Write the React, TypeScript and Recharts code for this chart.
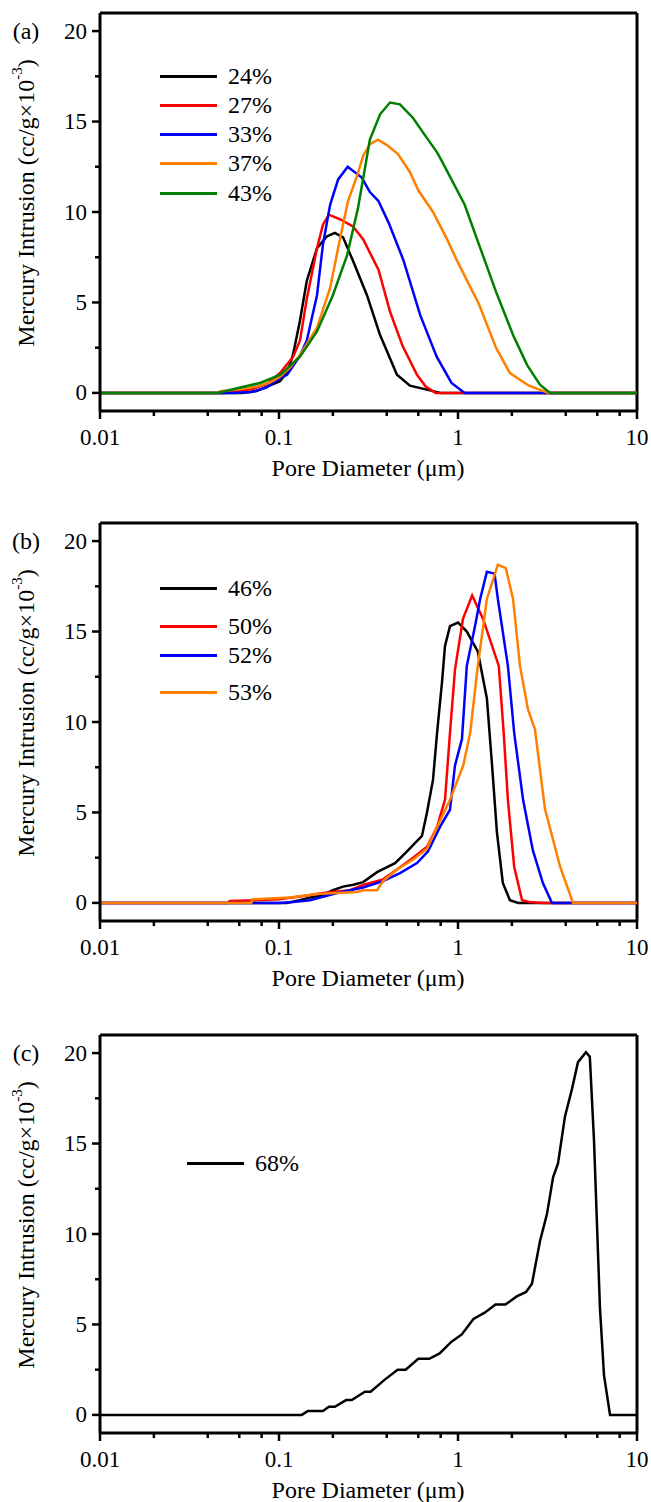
import React from 'react';
import { LineChart, Line, XAxis, YAxis, ReferenceLine, Legend } from 'recharts';

type Pt = [number, number];

// pore diameter (um), mercury intrusion (cc/g x 10^-3)
const p24: Pt[] = [[0.01, 0], [0.062, 0], [0.075, 0.1], [0.0857, 0.35], [0.1013, 0.65], [0.112, 1.2], [0.1197, 2.1], [0.131, 4.0], [0.143, 6.2], [0.163, 8.0], [0.185, 8.65], [0.205, 8.85], [0.228, 8.6], [0.259, 7.3], [0.31, 5.4], [0.367, 3.2], [0.456, 1.0], [0.539, 0.4], [0.725, 0.1], [0.8, 0], [10, 0]];
const p27: Pt[] = [[0.01, 0], [0.05, 0], [0.052, 0.05], [0.07, 0.2], [0.0857, 0.5], [0.1013, 1.1], [0.12, 2.0], [0.131, 2.9], [0.143, 5.2], [0.163, 8.0], [0.176, 9.3], [0.19, 9.85], [0.219, 9.6], [0.259, 9.2], [0.295, 8.5], [0.36, 6.8], [0.417, 4.5], [0.49, 2.6], [0.59, 1.0], [0.66, 0.35], [0.75, 0], [10, 0]];
const p33: Pt[] = [[0.01, 0], [0.055, 0], [0.07, 0.05], [0.085, 0.3], [0.1013, 0.8], [0.111, 1.0], [0.13, 2.0], [0.143, 2.9], [0.163, 5.4], [0.176, 8.2], [0.193, 10.4], [0.214, 11.8], [0.242, 12.5], [0.29, 11.9], [0.322, 11.1], [0.36, 10.6], [0.41, 9.4], [0.495, 7.35], [0.615, 4.3], [0.76, 2.0], [0.92, 0.55], [1.09, 0], [10, 0]];
const p37: Pt[] = [[0.01, 0], [0.045, 0], [0.047, 0.1], [0.06, 0.2], [0.075, 0.35], [0.09, 0.6], [0.1013, 0.9], [0.115, 1.4], [0.131, 2.1], [0.163, 3.6], [0.193, 5.8], [0.219, 8.5], [0.243, 10.6], [0.273, 12.0], [0.295, 13.1], [0.322, 13.75], [0.357, 14.0], [0.401, 13.7], [0.462, 13.2], [0.539, 12.2], [0.6, 11.2], [0.725, 10.0], [0.868, 8.5], [1.0, 7.2], [1.31, 4.9], [1.63, 2.5], [1.95, 1.1], [2.49, 0.4], [3.2, 0], [10, 0]];
const p43: Pt[] = [[0.01, 0], [0.045, 0], [0.048, 0.05], [0.0553, 0.2], [0.0783, 0.55], [0.1013, 1.0], [0.131, 2.0], [0.163, 3.4], [0.2, 5.4], [0.24, 7.6], [0.276, 10.2], [0.322, 14.0], [0.367, 15.4], [0.417, 16.05], [0.474, 15.95], [0.561, 15.2], [0.637, 14.4], [0.764, 13.3], [0.814, 12.8], [1.09, 10.4], [1.31, 8.2], [1.63, 5.6], [2.03, 3.2], [2.43, 1.55], [2.87, 0.45], [3.27, 0], [10, 0]];

const p46: Pt[] = [[0.01, 0], [0.11, 0], [0.13, 0.15], [0.15, 0.3], [0.176, 0.45], [0.2, 0.7], [0.228, 0.9], [0.26, 1.0], [0.295, 1.15], [0.353, 1.7], [0.445, 2.2], [0.519, 2.85], [0.629, 3.7], [0.671, 5.0], [0.725, 6.8], [0.764, 9.4], [0.814, 12.2], [0.846, 14.2], [0.902, 15.3], [1.0, 15.5], [1.12, 15.0], [1.29, 13.9], [1.45, 11.3], [1.55, 7.6], [1.65, 3.9], [1.78, 1.1], [1.95, 0.15], [2.17, 0], [10, 0]];
const p50: Pt[] = [[0.01, 0], [0.052, 0], [0.053, 0.1], [0.1, 0.2], [0.131, 0.35], [0.176, 0.55], [0.249, 0.7], [0.295, 1.0], [0.381, 1.3], [0.456, 1.85], [0.561, 2.5], [0.671, 3.1], [0.764, 4.2], [0.846, 5.7], [0.902, 9.4], [0.962, 12.9], [1.066, 15.7], [1.2, 17.0], [1.38, 15.7], [1.69, 13.1], [1.8, 9.4], [1.9, 5.7], [2.06, 2.0], [2.28, 0.15], [2.5, 0.05], [3.0, 0], [10, 0]];
const p52: Pt[] = [[0.01, 0], [0.071, 0], [0.1, 0], [0.12, 0.05], [0.149, 0.15], [0.211, 0.55], [0.295, 0.85], [0.381, 1.2], [0.474, 1.65], [0.59, 2.2], [0.68, 2.85], [0.793, 4.2], [0.902, 5.15], [0.962, 7.6], [1.052, 9.05], [1.12, 13.1], [1.245, 15.3], [1.33, 16.8], [1.45, 18.3], [1.6, 18.2], [1.67, 16.8], [1.9, 13.1], [2.06, 9.4], [2.31, 5.7], [2.62, 2.9], [2.98, 1.1], [3.35, 0], [10, 0]];
const p53: Pt[] = [[0.01, 0], [0.07, 0], [0.071, 0.2], [0.115, 0.3], [0.169, 0.5], [0.273, 0.6], [0.295, 0.7], [0.353, 0.7], [0.381, 1.2], [0.456, 1.85], [0.561, 2.4], [0.671, 3.0], [0.764, 4.2], [0.902, 5.7], [1.07, 7.6], [1.17, 9.4], [1.29, 13.1], [1.45, 16.8], [1.67, 18.7], [1.85, 18.5], [2.03, 16.8], [2.22, 13.1], [2.46, 10.7], [2.69, 9.6], [3.06, 5.2], [3.72, 2.0], [4.39, 0], [10, 0]];

const p68: Pt[] = [[0.01, 0], [0.134, 0], [0.145, 0.22], [0.176, 0.22], [0.19, 0.45], [0.205, 0.45], [0.237, 0.82], [0.255, 0.82], [0.302, 1.28], [0.325, 1.28], [0.39, 1.95], [0.46, 2.5], [0.51, 2.5], [0.6, 3.1], [0.69, 3.1], [0.79, 3.4], [0.92, 4.05], [1.05, 4.45], [1.22, 5.3], [1.41, 5.65], [1.62, 6.1], [1.84, 6.1], [2.13, 6.55], [2.4, 6.8], [2.59, 7.25], [2.87, 9.6], [3.14, 11.1], [3.4, 13.15], [3.62, 13.9], [3.96, 16.5], [4.33, 18.0], [4.68, 19.5], [5.19, 20.05], [5.45, 19.8], [5.75, 15.2], [6.21, 5.9], [6.54, 2.2], [7.07, 0], [10, 0]];

const xTicks = [0.01, 0.02, 0.04, 0.06, 0.08, 0.1, 0.2, 0.4, 0.6, 0.8, 1, 2, 4, 6, 8, 10];
const xMajor = [0.01, 0.1, 1, 10];
const yTicks = [0, 2.5, 5, 7.5, 10, 12.5, 15, 17.5, 20];
const yMajor = [0, 5, 10, 15, 20];

const FONT = '"Liberation Serif", "Times New Roman", serif';
const W = 651;
const TOP = 13;
const PLOT_H = 398;

interface Series { name: string; color: string; data: Pt[] }

const panelA: Series[] = [
  { name: '24%', color: '#000000', data: p24 },
  { name: '27%', color: '#ff0000', data: p27 },
  { name: '33%', color: '#0000ff', data: p33 },
  { name: '37%', color: '#ff8000', data: p37 },
  { name: '43%', color: '#008000', data: p43 },
];
const panelB: Series[] = [
  { name: '46%', color: '#000000', data: p46 },
  { name: '50%', color: '#ff0000', data: p50 },
  { name: '52%', color: '#0000ff', data: p52 },
  { name: '53%', color: '#ff8000', data: p53 },
];
const panelC: Series[] = [{ name: '68%', color: '#000000', data: p68 }];

const toPts = (arr: Pt[]) => arr.map(([x, y]) => ({ x, y }));

const XTick = (props: any) => {
  const { x, y, payload } = props;
  const major = xMajor.includes(payload.value);
  return (
    <g>
      <line x1={x} y1={y} x2={x} y2={y + (major ? 8 : 5)} stroke="#000" strokeWidth={2.5} />
      {major && (
        <text x={x} y={y + 26} textAnchor="middle" dominantBaseline="central" fontSize={23} fontFamily={FONT} fill="#000">
          {payload.value}
        </text>
      )}
    </g>
  );
};

const YTick = (props: any) => {
  const { x, y, payload } = props;
  const major = yMajor.includes(payload.value);
  return (
    <g>
      <line x1={x - (major ? 8 : 5)} y1={y} x2={x} y2={y} stroke="#000" strokeWidth={2.5} />
      {major && (
        <text x={x - 13} y={y} textAnchor="end" dominantBaseline="central" fontSize={23} fontFamily={FONT} fill="#000">
          {payload.value}
        </text>
      )}
    </g>
  );
};

interface PanelProps {
  top: number;
  height: number;
  letter: string;
  series: Series[];
  legendTops: number[];
  legendX: number;
}

function Panel({ top, height, letter, series, legendTops, legendX }: PanelProps) {
  const xH = height - TOP - PLOT_H;
  const renderLegend = (props: any) => {
    const items = props.payload || [];
    const ordered = series.map((s) => items.find((p: any) => p.value === s.name)).filter(Boolean);
    return (
      <div style={{ position: 'relative', width: W, height: 0 }}>
        {ordered.map((it: any, i: number) => (
          <React.Fragment key={it.value}>
            <div style={{ position: 'absolute', left: legendX, top: legendTops[i] - 1.5, width: 57, height: 3, background: it.color }} />
            <div
              style={{
                position: 'absolute', left: legendX + 68, top: legendTops[i] - 14, lineHeight: '28px',
                fontSize: 24, fontFamily: FONT, color: '#000', whiteSpace: 'nowrap',
              }}
            >
              {it.value}
            </div>
          </React.Fragment>
        ))}
      </div>
    );
  };

  return (
    <div style={{ position: 'absolute', left: 0, top, width: W, height }}>
      <LineChart width={W} height={height} margin={{ top: TOP, right: 14, bottom: 0, left: 0 }}>
        <XAxis
          type="number"
          dataKey="x"
          scale="log"
          domain={[0.01, 10]}
          allowDataOverflow
          ticks={xTicks}
          interval={0}
          height={xH}
          tick={XTick}
          tickSize={0}
          tickMargin={0}
          tickLine={false}
          axisLine={{ stroke: '#000', strokeWidth: 3 }}
        />
        <YAxis
          type="number"
          domain={[-1, 21]}
          allowDataOverflow
          ticks={yTicks}
          interval={0}
          width={100}
          tick={YTick}
          tickSize={0}
          tickMargin={0}
          tickLine={false}
          axisLine={{ stroke: '#000', strokeWidth: 3 }}
        />
        <ReferenceLine y={21} stroke="#000" strokeWidth={3} ifOverflow="visible" />
        <ReferenceLine x={10} stroke="#000" strokeWidth={3} ifOverflow="visible" />
        {series.map((s) => (
          <Line
            key={s.name}
            name={s.name}
            data={toPts(s.data)}
            dataKey="y"
            type="linear"
            stroke={s.color}
            strokeWidth={2.5}
            dot={false}
            activeDot={false}
            isAnimationActive={false}
          />
        ))}
        <Legend
          layout="vertical"
          align="center"
          verticalAlign="middle"
          content={renderLegend}
          wrapperStyle={{ position: 'absolute', left: 0, top: 0, width: W, height: 0 }}
        />
      </LineChart>
      <svg width={W} height={height} style={{ position: 'absolute', left: 0, top: 0, pointerEvents: 'none' }}>
        <text x={26} y={31} textAnchor="middle" dominantBaseline="central" fontSize={24} fontFamily={FONT} fill="#000">
          {letter}
        </text>
        <text
          transform={`translate(26, 203) rotate(-90)`}
          textAnchor="middle"
          dominantBaseline="central"
          fontSize={24}
          fontFamily={FONT}
          fill="#000"
        >
          Mercury Intrusion (cc/g×10
          <tspan dy={-9} fontSize={15}>-3</tspan>
          <tspan dy={9}>)</tspan>
        </text>
        <text x={368} y={TOP + PLOT_H + 57} textAnchor="middle" dominantBaseline="central" fontSize={24} fontFamily={FONT} fill="#000">
          Pore Diameter (μm)
        </text>
      </svg>
    </div>
  );
}

export default function App() {
  return (
    <div style={{ position: 'absolute', left: 0, top: 0, width: W, height: 1502, background: '#fff' }}>
      <Panel top={0} height={511} letter="(a)" series={panelA} legendTops={[76, 105, 134, 163, 193]} legendX={160} />
      <Panel top={510} height={511} letter="(b)" series={panelB} legendTops={[78, 116, 145, 182]} legendX={160} />
      <Panel top={1022} height={480} letter="(c)" series={panelC} legendTops={[141]} legendX={187} />
    </div>
  );
}
